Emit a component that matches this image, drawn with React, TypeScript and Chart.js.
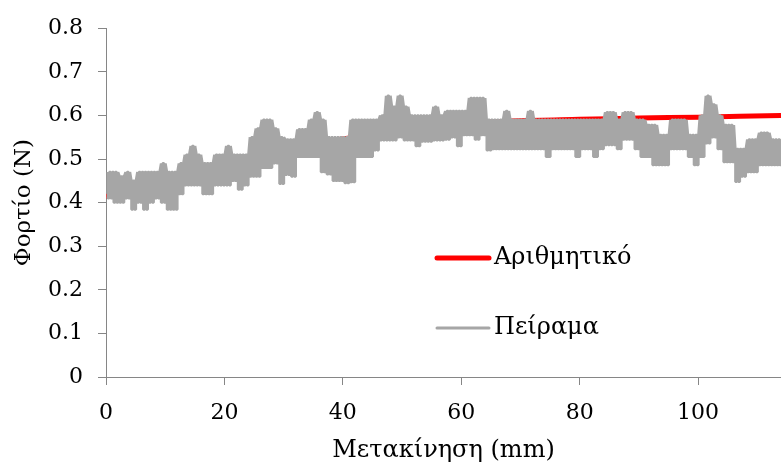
import { useEffect, useRef } from 'react';
import { Chart, registerables } from 'chart.js';
Chart.register(...registerables);

// ---- data ----
const X_TICKS = [0, 20, 40, 60, 80, 100];
const Y_TICKS = [0, 0.1, 0.2, 0.3, 0.4, 0.5, 0.6, 0.7, 0.8];

// numerical model (Αριθμητικό)
const NUM_X = [0, 5, 10, 15, 20, 25, 30, 35, 40, 45, 50, 55, 60, 70, 80, 90, 100, 114];
const NUM_Y = [0.414, 0.435, 0.452, 0.468, 0.487, 0.505, 0.52, 0.535, 0.546, 0.556, 0.566, 0.575, 0.582, 0.588, 0.591, 0.594, 0.596, 0.6];

// experiment (Πείραμα): noisy signal, read per 1 mm as upper / lower value of the band
const EXP_START = 0.3; // mm
const EXP_HI = [
  0.47, 0.47, 0.46, 0.47, 0.45, 0.47, 0.47, 0.47, 0.47, 0.49,
  0.47, 0.47, 0.49, 0.51, 0.53, 0.51, 0.49, 0.49, 0.51, 0.51,
  0.53, 0.51, 0.51, 0.51, 0.55, 0.57, 0.59, 0.59, 0.57, 0.55,
  0.545, 0.545, 0.568, 0.568, 0.59, 0.607, 0.59, 0.55, 0.55, 0.55,
  0.55, 0.59, 0.59, 0.59, 0.59, 0.59, 0.60, 0.645, 0.62, 0.645,
  0.62, 0.60, 0.60, 0.60, 0.60, 0.62, 0.60, 0.61, 0.61, 0.61,
  0.61, 0.64, 0.64, 0.64, 0.59, 0.59, 0.59, 0.61, 0.59, 0.59,
  0.59, 0.61, 0.59, 0.59, 0.59, 0.59, 0.59, 0.59, 0.59, 0.59,
  0.59, 0.59, 0.59, 0.59, 0.607, 0.607, 0.59, 0.607, 0.607, 0.59,
  0.59, 0.578, 0.578, 0.555, 0.555, 0.59, 0.59, 0.59, 0.555, 0.555,
  0.60, 0.645, 0.625, 0.60, 0.578, 0.578, 0.523, 0.523, 0.545, 0.545,
  0.56, 0.56, 0.545, 0.545, 0.545,
];
const EXP_LO = [
  0.41, 0.40, 0.40, 0.41, 0.384, 0.40, 0.384, 0.40, 0.41, 0.40,
  0.384, 0.384, 0.42, 0.44, 0.44, 0.44, 0.42, 0.42, 0.44, 0.44,
  0.44, 0.45, 0.43, 0.44, 0.46, 0.46, 0.48, 0.48, 0.49, 0.443,
  0.464, 0.46, 0.505, 0.505, 0.505, 0.505, 0.47, 0.465, 0.45, 0.45,
  0.445, 0.447, 0.505, 0.505, 0.505, 0.52, 0.543, 0.543, 0.543, 0.55,
  0.543, 0.543, 0.53, 0.54, 0.54, 0.543, 0.543, 0.545, 0.55, 0.53,
  0.555, 0.555, 0.545, 0.555, 0.52, 0.523, 0.523, 0.523, 0.523, 0.523,
  0.523, 0.523, 0.523, 0.523, 0.505, 0.523, 0.523, 0.523, 0.523, 0.505,
  0.523, 0.523, 0.505, 0.523, 0.532, 0.532, 0.523, 0.545, 0.545, 0.523,
  0.505, 0.505, 0.486, 0.486, 0.486, 0.523, 0.523, 0.523, 0.505, 0.486,
  0.505, 0.536, 0.55, 0.523, 0.493, 0.493, 0.448, 0.46, 0.47, 0.47,
  0.486, 0.486, 0.486, 0.486, 0.49,
];

const LABEL_NUM = 'Αριθμητικό';
const LABEL_EXP = 'Πείραμα';
const X_TITLE = 'Μετακίνηση (mm)';
const Y_TITLE = 'Φορτίο (N)';

const FONT = 'DejaVu Serif';
const RED = '#FF0000';
const GRAY = '#A6A6A6';
const AXIS = '#868686';

// the signal oscillates between the two readings within each millimetre
function buildExperiment() {
  const pts: { x: number; y: number }[] = [];
  EXP_HI.forEach((hi, m) => {
    const lo = EXP_LO[m];
    for (let k = 0; k < 4; k++) {
      const x = EXP_START + m + k * 0.25;
      if (k % 2 === 0) {
        pts.push({ x, y: hi }, { x, y: lo });
      } else {
        pts.push({ x, y: lo }, { x, y: hi });
      }
    }
  });
  return pts;
}

export default function App() {
  const ref = useRef<HTMLCanvasElement | null>(null);
  useEffect(() => {
    document.body.style.margin = '0';
    const canvas = ref.current;
    if (!canvas) return;

    const legendPlugin = {
      id: 'customLegend',
      afterDraw(chart: any) {
        const ctx = chart.ctx;
        const items = [
          { label: LABEL_NUM, color: RED, width: 5, y: 258 },
          { label: LABEL_EXP, color: GRAY, width: 3, y: 328 },
        ];
        ctx.save();
        ctx.font = `24px "${FONT}"`;
        ctx.textBaseline = 'middle';
        ctx.fillStyle = '#000';
        for (const it of items) {
          ctx.strokeStyle = it.color;
          ctx.lineWidth = it.width;
          ctx.lineCap = 'round';
          ctx.beginPath();
          ctx.moveTo(437, it.y);
          ctx.lineTo(489, it.y);
          ctx.stroke();
          ctx.fillText(it.label, 494, it.y);
        }
        ctx.restore();
      },
    };

    const chart = new Chart(canvas, {
      type: 'line',
      data: {
        datasets: [
          {
            label: LABEL_EXP,
            data: buildExperiment(),
            borderColor: GRAY,
            borderWidth: 2.5,
            borderJoinStyle: 'bevel',
            pointRadius: 0,
            tension: 0,
            order: 1,
          },
          {
            label: LABEL_NUM,
            data: NUM_X.map((x, i) => ({ x, y: NUM_Y[i] })),
            borderColor: RED,
            borderWidth: 5,
            pointRadius: 0,
            tension: 0.3,
            order: 2,
          },
        ],
      },
      options: {
        animation: false,
        responsive: false,
        devicePixelRatio: 1,
        layout: { padding: { top: 25, right: 0, left: 0, bottom: 0 } },
        plugins: { legend: { display: false }, tooltip: { enabled: false } },
        scales: {
          x: {
            type: 'linear',
            min: 0,
            max: 114,
            afterBuildTicks: (s: any) => { s.ticks = X_TICKS.map((v) => ({ value: v })); },
            afterFit: (s: any) => { s.height = 88; },
            grid: { display: true, drawOnChartArea: false, drawTicks: true, tickLength: 8, color: AXIS },
            border: { display: true, color: AXIS, width: 1 },
            ticks: { color: '#000', font: { family: FONT, size: 22 }, padding: 15, maxRotation: 0 },
            title: { display: true, text: X_TITLE, color: '#000', font: { family: FONT, size: 24 }, padding: { top: 2, bottom: 0 } },
          },
          y: {
            type: 'linear',
            min: 0,
            max: 0.8,
            afterBuildTicks: (s: any) => { s.ticks = Y_TICKS.map((v) => ({ value: v })); },
            afterFit: (s: any) => { s.width = 106; },
            grid: { display: true, drawOnChartArea: false, drawTicks: true, tickLength: 8, color: AXIS },
            border: { display: true, color: AXIS, width: 1 },
            ticks: {
              color: '#000',
              font: { family: FONT, size: 22 },
              padding: 15,
              callback: (v: any) => (v === 0 ? '0' : Number(v).toFixed(1)),
            },
            title: { display: true, text: Y_TITLE, color: '#000', font: { family: FONT, size: 23 }, padding: { top: 10, bottom: 4 } },
          },
        },
      },
      plugins: [legendPlugin],
    });
    return () => chart.destroy();
  }, []);
  return (
    <div style={{ width: 781, height: 465, background: '#fff' }}>
      <canvas ref={ref} width={781} height={465} style={{ display: 'block', width: 781, height: 465 }} />
    </div>
  );
}
